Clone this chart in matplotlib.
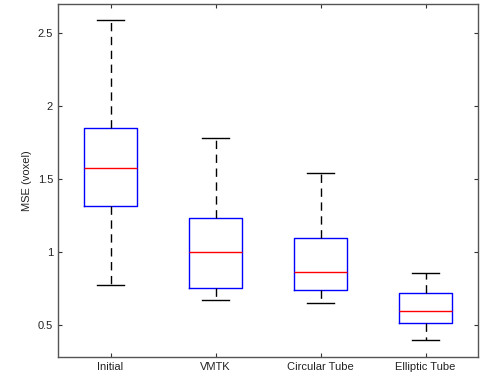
import matplotlib
matplotlib.use("Agg")
import matplotlib.pyplot as plt
from matplotlib.ticker import FormatStrFormatter, FuncFormatter

categories = ["Initial", "VMTK", "Circular Tube", "Elliptic Tube"]
whislo = [0.774, 0.669, 0.649, 0.395]
q1 = [1.313, 0.756, 0.740, 0.516]
med = [1.573, 1.000, 0.861, 0.594]
q3 = [1.851, 1.231, 1.094, 0.719]
whishi = [2.591, 1.779, 1.541, 0.858]
yticks = [0.5, 1, 1.5, 2, 2.5]

plt.rcParams['font.family'] = ['Liberation Sans', 'DejaVu Sans']

fig = plt.figure(figsize=(4.83, 3.77), dpi=100)
ax = fig.add_axes([58/483, 1 - 357/377, 420/483, 353/377])

stats = []
for i, c in enumerate(categories):
    stats.append(dict(label=c, whislo=whislo[i], q1=q1[i], med=med[i],
                      q3=q3[i], whishi=whishi[i], fliers=[]))

ax.bxp(stats, positions=range(1, len(categories) + 1), widths=0.5,
       showfliers=False,
       boxprops=dict(color='#0000ff', linewidth=1.0),
       medianprops=dict(color='#ff0000', linewidth=1.0),
       whiskerprops=dict(color='black', linewidth=1.0, linestyle=(0, (6, 4))),
       capprops=dict(color='black', linewidth=1.0),
       capwidths=0.25)

ax.set_xlim(0.5, 4.5)
ax.set_ylim(0.28, 2.7)
ax.set_yticks(yticks)
ax.yaxis.set_major_formatter(FuncFormatter(lambda v, p: f"{v:g}"))
ax.set_ylabel("MSE (voxel)", fontsize=8, color='#222222')
ax.tick_params(direction='in', top=True, right=True, length=3,
               labelsize=8, color='#333333', labelcolor='#222222')
for s in ax.spines.values():
    s.set_color('#555555')
    s.set_linewidth(1.0)

fig.savefig("out.png", dpi=100)
